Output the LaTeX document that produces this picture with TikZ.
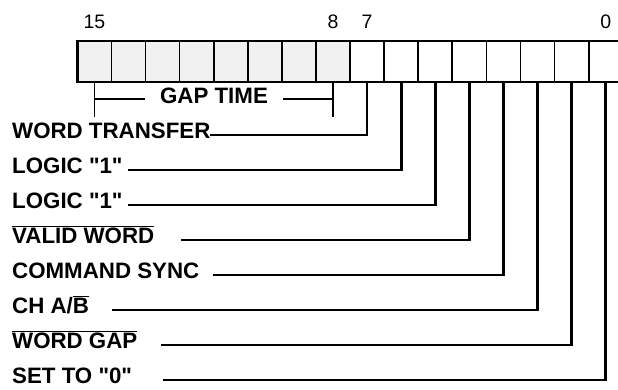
\documentclass[tikz,border=0pt]{standalone}
\usepackage{fontspec}
\newfontfamily\regfont{Liberation Sans}
\newcommand{\ovl}[1]{$\overline{\hbox{#1}}$}
\begin{document}
\begin{tikzpicture}[x=1pt,y=-1pt,line join=miter,
  cell/.style={draw,line width=1.7pt,minimum width=34.09pt,minimum height=41pt,outer sep=0pt,inner sep=0pt},
  lead/.style={line width=2.8pt},
  lbl/.style={font=\regfont\bfseries\fontsize{22.3}{22.3}\selectfont,anchor=base west,inner sep=0pt},
  bitnum/.style={font=\regfont\fontsize{19.5}{19.5}\selectfont,anchor=base,inner sep=0pt}]

\useasboundingbox (0,0) rectangle (618,390);

% register cells, bit 15 on the left
\foreach \b in {0,...,15}
{
\pgfmathsetmacro{\cx}{77.3+(15-\b+0.5)*34.09}
\ifnum\b>7
\node (c\b) at (\cx,61.3)[cell,fill={rgb,255:red,241;green,241;blue,241}]{};
\else
\node (c\b) at (\cx,61.3)[cell]{};
\fi
}
\draw[line width=2.4pt] (c15.north west) rectangle (c0.south east);
\draw[line width=2.4pt] (c8.north east) -- (c8.south east);

% bit numbers
\foreach \b in {15,8,7,0}
{
\node[bitnum] (n\b) at (c\b.center |- 0,28.3) {\b};
}

% gap time span
\node (gt) at (214,103.5)[lbl,anchor=base]{GAP TIME};
\draw[line width=1.5pt] (c15.south) -- ++(0,35);
\draw[line width=1.5pt] (c8.south) -- ++(0,35);
\draw[line width=1.5pt] (c15.south |- 0,99) -- ([xshift=-15pt]gt.west |- 0,99);
\draw[line width=1.5pt] ([xshift=15pt]gt.east |- 0,99) -- (c8.south |- 0,99);

% bit labels and leaders
\foreach \b/\txt/\sx in {7/{WORD TRANSFER}/210, 6/{LOGIC "1"}/128, 5/{LOGIC "1"}/128,
  4/{\ovl{VALID WORD}}/181, 3/{COMMAND SYNC}/213, 2/{CH A/\ovl{B}}/112,
  1/{\ovl{WORD GAP}}/161, 0/{SET TO "0"}/163}
{
\pgfmathsetmacro{\ry}{135+35*(7-\b)}
\node[lbl] (l\b) at (12,\ry+3.2) {\txt};
\coordinate (s\b) at (\sx,\ry);
\draw[lead] (s\b) -| (c\b.south);
}

\end{tikzpicture}
\end{document}
